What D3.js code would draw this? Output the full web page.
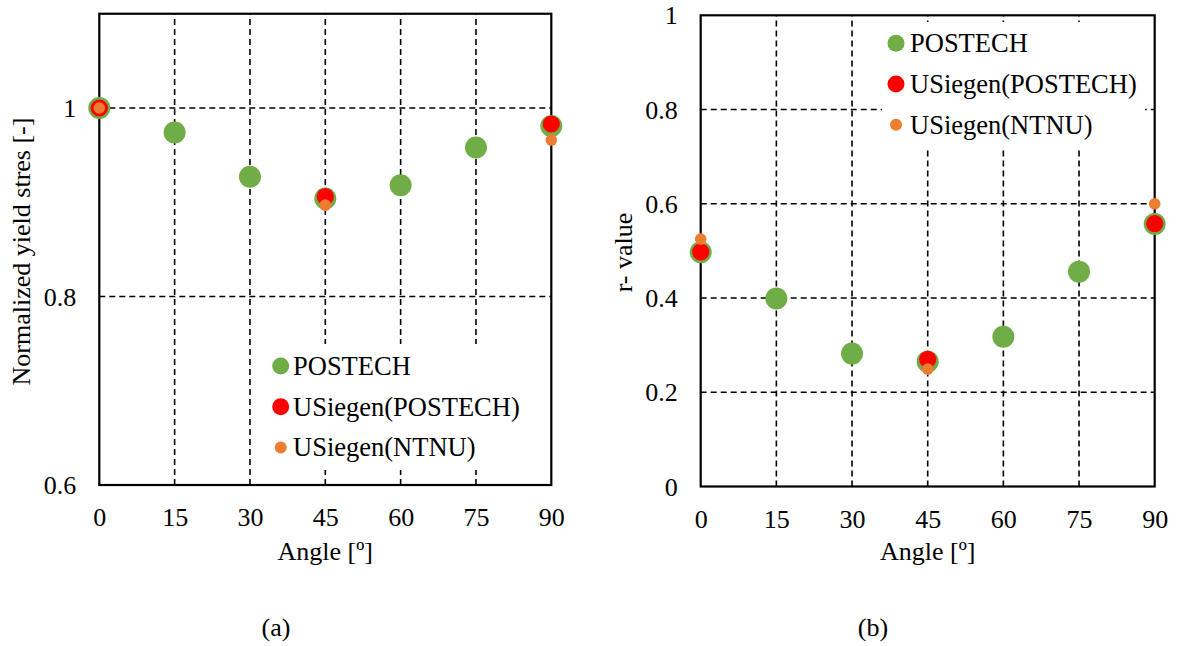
<!DOCTYPE html>
<html>
<head>
<meta charset="utf-8">
<script src="https://cdn.jsdelivr.net/npm/d3@7"></script>
<style>
  html, body { margin: 0; padding: 0; background: #fff; }
  svg { display: block; }
</style>
</head>
<body>
<svg id="chart" width="1177" height="646"></svg>
<script>
// ---- data ----
const angles = [0, 15, 30, 45, 60, 75, 90];
const xTicks = [0, 15, 30, 45, 60, 75, 90];

// (a) Normalized yield stress
const ysPostech = [1.000, 0.974, 0.927, 0.904, 0.918, 0.958, 0.981];
const ysUSiegenPostechAngles = [0, 45, 90];
const ysUSiegenPostech = [1.000, 0.906, 0.983];
const ysUSiegenNtnuAngles = [0, 45, 90];
const ysUSiegenNtnu = [1.000, 0.897, 0.966];
const ysTicks = [0.6, 0.8, 1.0];
const ysTickLabels = ["0.6", "0.8", "1"];

// (b) r-value
const rPostech = [0.497, 0.399, 0.282, 0.265, 0.318, 0.456, 0.557];
const rUSiegenPostechAngles = [0, 45, 90];
const rUSiegenPostech = [0.498, 0.270, 0.558];
const rUSiegenNtnuAngles = [0, 45, 90];
const rUSiegenNtnu = [0.525, 0.249, 0.600];
const rTicks = [0, 0.2, 0.4, 0.6, 0.8, 1.0];
const rTickLabels = ["0", "0.2", "0.4", "0.6", "0.8", "1"];

const seriesNames = ["POSTECH", "USiegen(POSTECH)", "USiegen(NTNU)"];
const seriesColors = ["#70AD47", "#FF0000", "#ED7D31"];

const FONT = "'Liberation Serif', 'Times New Roman', Times, 'DejaVu Serif', serif";

// ---- drawing ----
const svg = d3.select("#chart").attr("font-family", FONT);
svg.append("rect").attr("width", 1177).attr("height", 646).attr("fill", "#fff");

function panel(cfg) {
  const x = d3.scaleLinear().domain([0, 90]).range(cfg.xRange);
  const y = d3.scaleLinear().domain(cfg.yDomain).range(cfg.yRange);
  const g = svg.append("g").attr("font-family", FONT);
  const [x0, x1] = cfg.xRange;
  const [yb, yt] = cfg.yRange;

  // gridlines
  g.append("g").selectAll("line.h").data(cfg.hGrid).join("line")
    .attr("x1", x0).attr("x2", x1)
    .attr("y1", d => y(d)).attr("y2", d => y(d))
    .attr("stroke", "#000").attr("stroke-width", 1.6).attr("stroke-dasharray", "6,4");
  g.append("g").selectAll("line.v").data(xTicks.filter(d => d > 0 && d < 90)).join("line")
    .attr("x1", d => x(d)).attr("x2", d => x(d))
    .attr("y1", yb).attr("y2", yt)
    .attr("stroke", "#000").attr("stroke-width", 1.6).attr("stroke-dasharray", "6,4");

  // legend background
  const L = cfg.legend;
  g.append("rect").attr("x", L.x).attr("y", L.y).attr("width", L.w).attr("height", L.h).attr("fill", "#fff");

  // border
  g.append("rect").attr("x", x0).attr("y", yt).attr("width", x1 - x0).attr("height", yb - yt)
    .attr("fill", "none").attr("stroke", "#000").attr("stroke-width", 2.2);

  // x axis
  const xa = g.append("g").attr("transform", `translate(0,${yb})`)
    .call(d3.axisBottom(x).tickValues(xTicks).tickSize(0).tickFormat(d3.format("d")));
  xa.attr("font-family", FONT).attr("font-size", 26);
  xa.select(".domain").remove();
  xa.selectAll("text").attr("y", 41).attr("dy", 0).attr("fill", "#000");

  // y axis
  const ya = g.append("g").attr("transform", `translate(${x0},0)`)
    .call(d3.axisLeft(y).tickValues(cfg.yTicks).tickSize(0)
      .tickFormat((d, i) => cfg.yTickLabels[i]));
  ya.attr("font-family", FONT).attr("font-size", 26);
  ya.select(".domain").remove();
  ya.selectAll("text").attr("x", -23).attr("dy", "0.33em").attr("fill", "#000");

  // points
  const pts = g.append("g");
  pts.selectAll("circle.s0").data(cfg.s0.map((v, i) => [angles[i], v])).join("circle")
    .attr("cx", d => x(d[0])).attr("cy", d => y(d[1])).attr("r", 11).attr("fill", seriesColors[0]);
  pts.selectAll("circle.s1").data(cfg.s1.map((v, i) => [cfg.s1a[i], v])).join("circle")
    .attr("cx", d => x(d[0])).attr("cy", d => y(d[1])).attr("r", 8.6).attr("fill", seriesColors[1]);
  pts.selectAll("circle.s2").data(cfg.s2.map((v, i) => [cfg.s2a[i], v])).join("circle")
    .attr("cx", d => x(d[0])).attr("cy", d => y(d[1])).attr("r", 5.8).attr("fill", seriesColors[2]);

  // legend items
  const radii = [8.5, 8.5, 6];
  seriesNames.forEach((name, i) => {
    const cy = L.my + i * 40.7;
    g.append("circle").attr("cx", L.mx).attr("cy", cy).attr("r", radii[i]).attr("fill", seriesColors[i]);
    g.append("text").attr("x", L.tx).attr("y", cy + 9).attr("font-size", 26.5).text(name);
  });

  // axis titles
  g.append("text").attr("x", (x0 + x1) / 2).attr("y", 560).attr("text-anchor", "middle")
    .attr("font-size", 26).text("Angle [º]");
  g.append("text").attr("transform", `translate(${cfg.yTitleX},${cfg.yTitleY}) rotate(-90)`)
    .attr("text-anchor", "middle").attr("font-size", 26).text(cfg.yTitle);
  g.append("text").attr("x", cfg.capX).attr("y", 636).attr("text-anchor", "middle")
    .attr("font-size", 26).text(cfg.caption);
}

panel({
  xRange: [99.3, 551.3], yDomain: [0.6, 1.1], yRange: [485, 13.75],
  hGrid: [0.8, 1.0], yTicks: ysTicks, yTickLabels: ysTickLabels,
  s0: ysPostech, s1: ysUSiegenPostech, s1a: ysUSiegenPostechAngles,
  s2: ysUSiegenNtnu, s2a: ysUSiegenNtnuAngles,
  legend: { x: 257, y: 344, w: 292, h: 126, mx: 280.7, my: 366, tx: 293 },
  yTitle: "Normalized yield stres [-]", yTitleX: 30, yTitleY: 251.5,
  caption: "(a)", capX: 276
});

panel({
  xRange: [700.7, 1154.7], yDomain: [0, 1], yRange: [486.5, 15.3],
  hGrid: [0.2, 0.4, 0.6, 0.8], yTicks: rTicks, yTickLabels: rTickLabels,
  s0: rPostech, s1: rUSiegenPostech, s1a: rUSiegenPostechAngles,
  s2: rUSiegenNtnu, s2a: rUSiegenNtnuAngles,
  legend: { x: 882, y: 22, w: 263, h: 128, mx: 896, my: 43.3, tx: 910 },
  yTitle: "r- value", yTitleX: 632, yTitleY: 252.5,
  caption: "(b)", capX: 873
});
</script>
</body>
</html>
